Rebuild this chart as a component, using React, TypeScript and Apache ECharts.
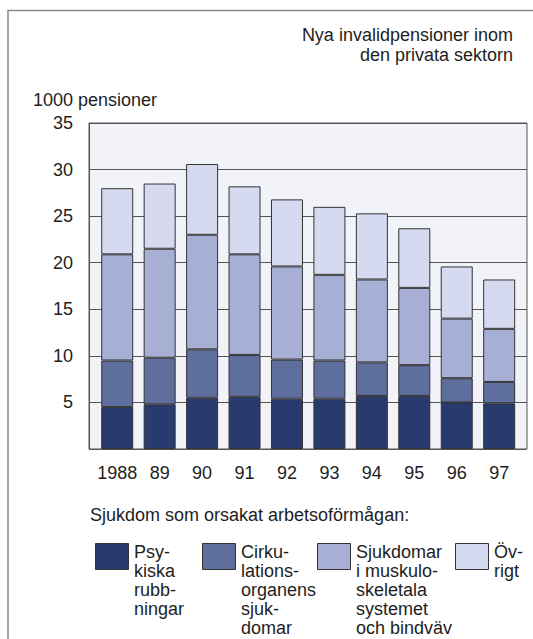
import React, { useEffect, useRef } from "react";
import * as echarts from "echarts";

const years = ["1988", "89", "90", "91", "92", "93", "94", "95", "96", "97"];
const psykiska = [4.5, 4.8, 5.5, 5.6, 5.4, 5.4, 5.7, 5.7, 5.0, 4.9];
const cirkulation = [5.0, 5.0, 5.2, 4.5, 4.2, 4.1, 3.6, 3.3, 2.6, 2.3];
const muskulo = [11.4, 11.7, 12.3, 10.8, 10.0, 9.2, 8.9, 8.3, 6.4, 5.7];
const ovrigt = [7.1, 7.0, 7.6, 7.3, 7.2, 7.3, 7.1, 6.4, 5.6, 5.3];

const seriesNames = [
  "Psykiska rubbningar",
  "Cirkulationsorganens sjukdomar",
  "Sjukdomar i muskuloskeletala systemet och bindväv",
  "Övrigt",
];
const legendLabels = [
  "Psy-\nkiska\nrubb-\nningar",
  "Cirku-\nlations-\norganens\nsjuk-\ndomar",
  "Sjukdomar\ni muskulo-\nskeletala\nsystemet\noch bindväv",
  "Öv-\nrigt",
];
const colors = ["#283a6e", "#5e6f9e", "#a7afd5", "#d6daf0"];

const FONT = "'Liberation Sans', Arial, Helvetica, sans-serif";
const TXT = "#1e1e1e";
const FS = 18;

export default function App() {
  const ref = useRef<HTMLDivElement>(null);
  useEffect(() => {
    if (!ref.current) return;
    const chart = echarts.init(ref.current, null, { renderer: "svg" });
    const data = [psykiska, cirkulation, muskulo, ovrigt];
    const legendLeft = [95, 202, 317, 455];
    const legendTop = 543;
    const legends = seriesNames.map((n, i) => ({
      data: [n],
      left: legendLeft[i],
      top: legendTop,
      padding: 0,
      icon: "rect",
      itemWidth: 33,
      itemHeight: 26,
      selectedMode: false,
      formatter: () => "",
      itemStyle: { borderColor: "#333", borderWidth: 1 },
      textStyle: { fontFamily: FONT, fontSize: FS, color: TXT },
    }));
    const textStyleBase = { fontFamily: FONT, fontSize: FS, fill: TXT, lineHeight: 20 };
    const legendTexts = legendLabels.map((t, i) => ({
      type: "text",
      x: legendLeft[i] + 39,
      y: legendTop - 1,
      silent: true,
      style: { ...textStyleBase, lineHeight: 19, text: t, align: "left", verticalAlign: "top" },
    }));
    chart.setOption({
      animation: false,
      backgroundColor: "#ffffff",
      legend: legends,
      grid: [
        { left: 96, top: 123, width: 424.4, height: 326, show: false },
        {
          left: 89,
          top: 123,
          width: 438,
          height: 326,
          show: true,
          backgroundColor: "#f2f2f9",
          borderColor: "#555",
          borderWidth: 1,
        },
      ],
      xAxis: [
        {
          type: "category",
          gridIndex: 0,
          data: years,
          axisLine: { show: false },
          axisTick: { show: false },
          axisLabel: { fontFamily: FONT, fontSize: FS, color: TXT, margin: 15, interval: 0 },
        },
        {
          type: "category",
          gridIndex: 1,
          data: years,
          show: false,
        },
      ],
      yAxis: [
        { type: "value", gridIndex: 0, min: 0, max: 35, interval: 5, show: false, splitLine: { show: false } },
        {
          type: "value",
          gridIndex: 1,
          min: 0,
          max: 35,
          interval: 5,
          axisLine: { show: true, lineStyle: { color: "#555", width: 1 } },
          axisTick: { show: false },
          splitLine: { show: true, lineStyle: { color: "#555", width: 1 } },
          axisLabel: {
            fontFamily: FONT,
            fontSize: FS,
            color: TXT,
            margin: 16,
            formatter: (v: number) => (v === 0 ? "" : String(v)),
          },
        },
      ],
      graphic: [
        {
          type: "polyline",
          shape: { points: [[8, 639], [8, 10.5], [533, 10.5]] },
          style: { stroke: "#8a8a8a", lineWidth: 1.5, fill: "none" },
          silent: true,
        },
        {
          type: "text",
          x: 513,
          y: 25,
          silent: true,
          style: {
            ...textStyleBase,
            text: "Nya invalidpensioner inom\nden privata sektorn",
            align: "right",
            verticalAlign: "top",
          },
        },
        {
          type: "text",
          x: 33,
          y: 90,
          silent: true,
          style: { ...textStyleBase, text: "1000 pensioner", align: "left", verticalAlign: "top" },
        },
        {
          type: "text",
          x: 90,
          y: 505,
          silent: true,
          style: {
            ...textStyleBase,
            text: "Sjukdom som orsakat arbetsoförmågan:",
            align: "left",
            verticalAlign: "top",
          },
        },
        ...legendTexts,
      ],
      series: seriesNames.map((n, i) => ({
        name: n,
        type: "bar",
        stack: "total",
        xAxisIndex: 0,
        yAxisIndex: 0,
        barWidth: 32,
        data: data[i],
        itemStyle: { color: colors[i], borderColor: "#333", borderWidth: 1 },
      })),
    });
    return () => chart.dispose();
  }, []);
  return (
    <div
      ref={ref}
      style={{ position: "fixed", left: 0, top: 0, width: 533, height: 639 }}
    />
  );
}
